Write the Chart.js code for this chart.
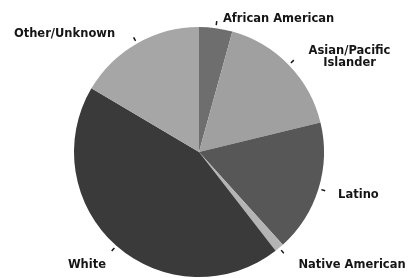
<!DOCTYPE html>
<html>
<head>
<meta charset="utf-8">
<script src="https://cdn.jsdelivr.net/npm/chart.js@4.4.1/dist/chart.umd.min.js"></script>
<style>
  html, body { margin: 0; padding: 0; background: #fff; overflow: hidden; }
  #wrap { position: relative; width: 413px; height: 278px; }
</style>
</head>
<body>
<div id="wrap"><canvas id="grafica"></canvas></div>
<script>
// =================== Datos ===================
const categorias = ["African American", ["Asian/Pacific", "Islander"], "Latino", "Native American", "White", "Other/Unknown"];
const porcentajes = [4.3, 16.9, 17.1, 1.2, 44.0, 16.5];
const colores = ["#6e6e6e", "#a0a0a0", "#575757", "#b4b4b4", "#3a3a3a", "#a6a6a6"];

// ajuste fino de cada etiqueta (dx, dy, alineación)
const ajusteEtiqueta = [[6, -1, "left"], [55, -2, "center"], [12, 4, "left"], [14, 11, "left"], [-5, 13, "right"], [-18, -2, "right"]];

// =================== Etiquetas con guía ===================
const etiquetasPlugin = {
  id: "etiquetas",
  afterDatasetsDraw(chart) {
    const ctx = chart.ctx;
    const meta = chart.getDatasetMeta(0);
    ctx.save();
    ctx.font = "bold 11.5px 'DejaVu Sans', sans-serif";
    ctx.fillStyle = "#151515";
    ctx.strokeStyle = "#151515";
    ctx.lineWidth = 1.5;
    ctx.textBaseline = "middle";
    meta.data.forEach((arc, i) => {
      const p = arc.getProps(["x", "y", "startAngle", "endAngle", "outerRadius"], true);
      const a = (p.startAngle + p.endAngle) / 2;
      const cos = Math.cos(a), sin = Math.sin(a);
      // guía corta
      ctx.beginPath();
      ctx.moveTo(p.x + cos * (p.outerRadius + 3), p.y + sin * (p.outerRadius + 3));
      ctx.lineTo(p.x + cos * (p.outerRadius + 7), p.y + sin * (p.outerRadius + 7));
      ctx.stroke();
      const [dx, dy, alin] = ajusteEtiqueta[i];
      const tx = p.x + cos * (p.outerRadius + 8) + dx;
      const ty = p.y + sin * (p.outerRadius + 8) + dy;
      const lineas = Array.isArray(categorias[i]) ? categorias[i] : [categorias[i]];
      const alto = 12;
      ctx.textAlign = alin;
      lineas.forEach((l, k) => {
        ctx.fillText(l, tx, ty + (k - (lineas.length - 1) / 2) * alto);
      });
    });
    ctx.restore();
  }
};

// =================== Chart ===================
new Chart(document.getElementById("grafica"), {
  type: "pie",
  data: {
    labels: categorias,
    datasets: [{
      data: porcentajes,
      backgroundColor: colores,
      borderWidth: 0,
      radius: 125
    }]
  },
  options: {
    responsive: true,
    maintainAspectRatio: false,
    animation: false,
    layout: { padding: { left: 0, right: 15, top: 26, bottom: 0 } },
    plugins: { legend: { display: false }, tooltip: { enabled: false } }
  },
  plugins: [etiquetasPlugin]
});
</script>
</body>
</html>
